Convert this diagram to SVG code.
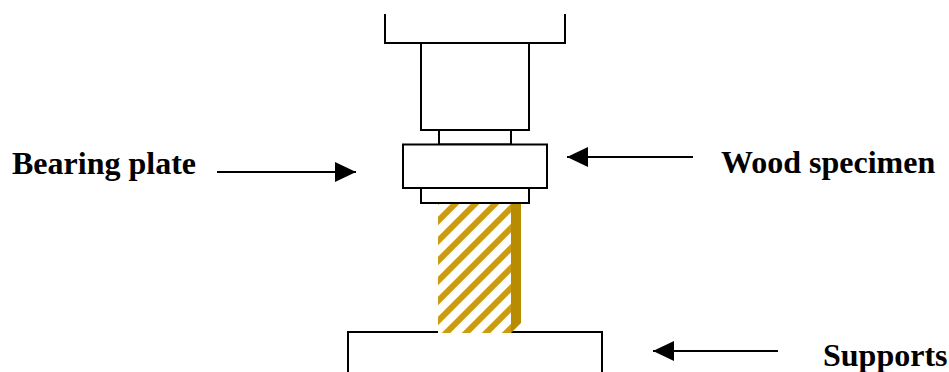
<svg xmlns="http://www.w3.org/2000/svg" width="949" height="372" viewBox="0 0 949 372">
<style>
.o{fill:#fff;stroke:#000;stroke-width:2}
.l{fill:none;stroke:#000;stroke-width:2}
.a{fill:none;stroke:#000;stroke-width:2;marker-end:url(#h)}
text{font-family:"Liberation Serif","Times New Roman",serif;font-weight:bold;font-size:32px;fill:#000}
</style>
<defs>
<marker id="h" markerUnits="userSpaceOnUse" markerWidth="22" markerHeight="20" refX="21" refY="10" orient="auto"><path d="M0 0L21 10L0 20Z" fill="#000"/></marker>
<pattern id="s" patternUnits="userSpaceOnUse" width="20" height="20" patternTransform="translate(-1 0)"><path d="M-5 5L5-5M0 20L20 0M15 25L25 15" stroke="#CC9C10" stroke-width="6" fill="none"/></pattern>
</defs>
<rect width="949" height="372" fill="#fff"/>
<g id="supports"><path class="l" d="M348 372V332H602V372"/></g>
<g id="specimen">
<rect x="438" y="203" width="73" height="130" fill="#fff"/>
<rect x="438" y="203" width="73" height="130" fill="url(#s)"/>
<path d="M511 203H521V323L511 333Z" fill="#B88C00"/>
</g>
<g id="crosshead"><path class="l" d="M385 14V43H565V14"/></g>
<g id="ram"><rect class="o" x="421" y="43" width="108" height="87"/></g>
<g id="neck"><rect class="o" x="439" y="130" width="72" height="14.500"/></g>
<g id="bearing-plate"><rect class="o" x="403" y="144.500" width="144" height="43.500"/></g>
<g id="lower-plate"><rect class="o" x="421" y="188" width="108" height="15"/></g>
<g id="connectors">
<path class="a" d="M217 172H356"/>
<path class="a" d="M693 157H567"/>
<path class="a" d="M778 351H653"/>
</g>
<g id="label-bearing"><text x="12" y="174">Bearing plate</text></g>
<g id="label-wood"><text x="721" y="173">Wood specimen</text></g>
<g id="label-supports"><text x="823" y="366">Supports</text></g>
</svg>
